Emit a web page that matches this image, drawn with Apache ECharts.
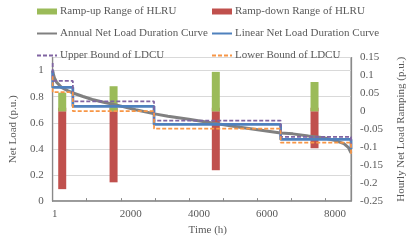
<!DOCTYPE html>
<html>
<head>
<meta charset="utf-8">
<script src="https://cdn.jsdelivr.net/npm/echarts@6/dist/echarts.min.js"></script>
<style>
html,body{margin:0;padding:0;background:#fff;}
#c{width:415px;height:241px;}
</style>
</head>
<body>
<div id="c"></div>
<script>
// ---- data ----
const barHours = [281, 1789, 4791, 7689];
const rampUpTop = [0.062, 0.080, 0.120, 0.0917];
const rampDownTop = [0.010, 0.010, 0.010, 0.010];
const rampDownBottom = [-0.2167, -0.1977, -0.164, -0.1028];

const grayX = [1, 14, 50, 122, 258, 440, 620, 892, 1164, 1528, 1890, 2436, 2996, 3385, 4000, 4690, 5500, 6694, 7055, 7509, 7961, 8325, 8551, 8687, 8760];
const grayY = [1.0, 0.98, 0.945, 0.908, 0.871, 0.846, 0.826, 0.801, 0.778, 0.755, 0.735, 0.700, 0.668, 0.65, 0.627, 0.599, 0.566, 0.522, 0.515, 0.498, 0.485, 0.462, 0.44, 0.41, 0.37];

const stepX = [1, 1, 593, 593, 2977, 2977, 6694, 6694, 8760, 8760];
const linearY = [1.0, 0.871, 0.871, 0.726, 0.726, 0.587, 0.587, 0.472, 0.472, 0.40];
const upperY = [1.057, 0.920, 0.920, 0.763, 0.763, 0.617, 0.617, 0.4925, 0.4925, 0.41];
const lowerY = [0.957, 0.834, 0.834, 0.689, 0.689, 0.555, 0.555, 0.448, 0.448, 0.35];

const xTickValues = [0, 2000, 4000, 6000, 8000];
const xTickLabels = ['1', '2000', '4000', '6000', '8000'];

const names = {
  up: 'Ramp-up Range of HLRU',
  down: 'Ramp-down Range of HLRU',
  annual: 'Annual Net Load Duration Curve',
  linear: 'Linear Net Load Duration Curve',
  upper: 'Upper Bound of LDCU',
  lower: 'Lower Bound of LDCU'
};

// ---- build ----
const FONT = 'Liberation Serif';
const TXT = '#595959';
const AX = '#898989';
const CLEAR = 'rgba(0,0,0,0)';
const pairs = (xs, ys) => xs.map((x, i) => [x, ys[i]]);

// red spans from rampDownBottom to rampDownTop (split at 0 for same-sign stacking); green sits on top
const downNegData = barHours.map((h, i) => [h, rampDownBottom[i]]);
const downPosData = barHours.map((h, i) => [h, rampDownTop[i]]);
const upData = barHours.map((h, i) => [h, rampUpTop[i] - rampDownTop[i]]);

const chart = echarts.init(document.getElementById('c'), null, {renderer: 'canvas'});
const legendCommon = {
  orient: 'vertical', top: 1, itemWidth: 20, itemHeight: 6, itemGap: 11,
  textStyle: {fontFamily: FONT, fontSize: 11, color: TXT, padding: [0, 0, 0, -2]},
  selectedMode: false
};
const lineItem = (n) => ({name: n, itemStyle: {color: CLEAR, borderColor: CLEAR, borderWidth: 0}});
function lineSeries(name, xs, ys, color, width, dash, z) {
  return {
    name: name, type: 'line', yAxisIndex: 0, symbol: 'none', showSymbol: false,
    data: pairs(xs, ys),
    lineStyle: {color: color, width: width, type: dash || 'solid'},
    itemStyle: {color: color}, z: z
  };
}
chart.setOption({
  animation: false,
  textStyle: {fontFamily: FONT},
  legend: [
    Object.assign({left: 31, data: [{name: names.up, icon: 'rect'}, lineItem(names.annual), lineItem(names.upper)]}, legendCommon),
    Object.assign({left: 206, data: [{name: names.down, icon: 'rect'}, lineItem(names.linear), lineItem(names.lower)]}, legendCommon)
  ],
  grid: {left: 40.5, right: 52.3, top: 57.5, bottom: 36, show: true, borderColor: AX, borderWidth: 1},
  xAxis: {
    type: 'value', min: 0, max: 8760, interval: 1000,
    name: 'Time (h)', nameLocation: 'middle', nameGap: 21,
    nameTextStyle: {fontFamily: FONT, fontSize: 11, color: TXT, padding: [0, 0, 0, 12]},
    axisLine: {show: true, lineStyle: {color: AX, width: 1.5}},
    axisTick: {show: true, inside: true, length: 3, lineStyle: {color: AX}},
    splitLine: {show: false},
    axisLabel: {
      showMaxLabel: false, margin: 8, color: TXT, fontFamily: FONT, fontSize: 11,
      formatter: function (v) {
        const k = xTickValues.indexOf(v);
        if (k < 0) return '';
        return k === 0 ? '{b|' + xTickLabels[k] + '}' : '{a|' + xTickLabels[k] + '}';
      },
      rich: {
        a: {padding: [0, 0, 0, 20], fontFamily: FONT, fontSize: 11, color: TXT},
        b: {padding: [0, 0, 0, 4], fontFamily: FONT, fontSize: 11, color: TXT}
      }
    }
  },
  yAxis: [
    {
      type: 'value', min: 0, max: 1.1, interval: 0.2,
      name: 'Net Load (p.u.)', nameLocation: 'middle', nameGap: 32, nameRotate: 90,
      nameTextStyle: {fontFamily: FONT, fontSize: 11, color: TXT},
      axisLine: {show: true, lineStyle: {color: AX, width: 1.25}},
      axisTick: {show: false},
      axisLabel: {showMaxLabel: false, margin: 9, color: TXT, fontFamily: FONT, fontSize: 11},
      splitLine: {show: true, lineStyle: {color: '#d9d9d9', width: 1}}
    },
    {
      type: 'value', min: -0.25, max: 0.15, interval: 0.05, position: 'right',
      name: 'Hourly Net Load Ramping (p.u.)', nameLocation: 'middle', nameGap: 45, nameRotate: 90,
      nameTextStyle: {fontFamily: FONT, fontSize: 11, color: TXT},
      axisLine: {show: true, lineStyle: {color: AX, width: 1.25}},
      axisTick: {show: false},
      axisLabel: {margin: 9, color: TXT, fontFamily: FONT, fontSize: 11},
      splitLine: {show: false}
    }
  ],
  series: [
    {name: names.down, type: 'bar', yAxisIndex: 1, stack: 'h', barWidth: 8,
     data: downNegData, itemStyle: {color: '#c0504d'}, z: 1},
    {name: names.down, type: 'bar', yAxisIndex: 1, stack: 'h', barWidth: 8,
     data: downPosData, itemStyle: {color: '#c0504d'}, z: 1},
    {name: names.up, type: 'bar', yAxisIndex: 1, stack: 'h', barWidth: 8,
     data: upData, itemStyle: {color: '#9bbb59'}, z: 1},
    lineSeries(names.annual, grayX, grayY, '#808080', 3, null, 3),
    lineSeries(names.linear, stepX, linearY, '#4f81bd', 2.75, null, 4),
    lineSeries(names.upper, stepX, upperY, '#8064a2', 1.75, [4, 2], 5),
    lineSeries(names.lower, stepX, lowerY, '#f79646', 1.75, [4, 2], 6)
  ]
});
</script>
</body>
</html>
